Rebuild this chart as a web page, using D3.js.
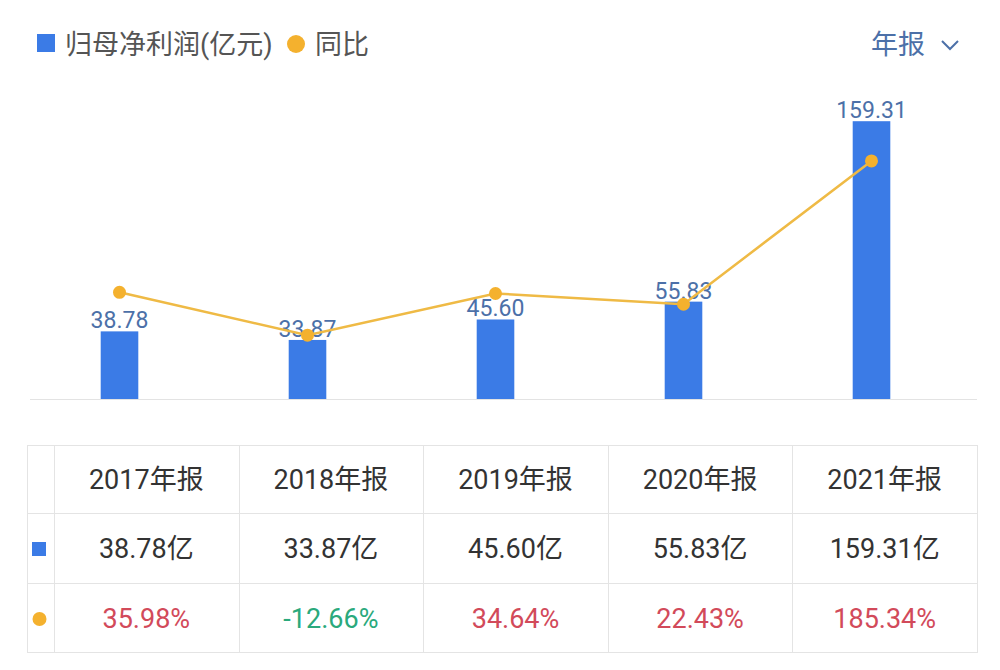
<!DOCTYPE html>
<html>
<head>
<meta charset="utf-8">
<script src="https://cdn.jsdelivr.net/npm/d3@7"></script>
<style>
  html, body { margin: 0; padding: 0; background: #fff; }
  svg { display: block; font-family: Roboto, "Noto Sans CJK SC", sans-serif; }
</style>
</head>
<body>
<svg id="chart" width="1000" height="670"></svg>
<script>
const categories = ["2017年报", "2018年报", "2019年报", "2020年报", "2021年报"];
const profit = [38.78, 33.87, 45.60, 55.83, 159.31];
const yoy = [35.98, -12.66, 34.64, 22.43, 185.34];
const legendLabels = ["归母净利润(亿元)", "同比"];
const periodLabel = "年报";

const BLUE = "#3b7be6";
const ORANGE = "#f4b12e";
const LINE = "#efba45";
const LABEL = "#4c70a8";
const RED = "#d24a5a";
const GREEN = "#2aa97c";

const svg = d3.select("#chart");

// legend
const lg = svg.append("g");
lg.append("rect").attr("x", 37).attr("y", 34).attr("width", 18).attr("height", 18).attr("fill", BLUE);
lg.append("text").attr("x", 65).attr("y", 54).attr("font-size", 27).attr("fill", "#555").text(legendLabels[0]);
lg.append("circle").attr("cx", 296).attr("cy", 44).attr("r", 9).attr("fill", ORANGE);
lg.append("text").attr("x", 315).attr("y", 54).attr("font-size", 27).attr("fill", "#555").text(legendLabels[1]);

svg.append("text").attr("x", 871).attr("y", 54).attr("font-size", 27).attr("fill", LABEL).text(periodLabel);
svg.append("path").attr("d", "M942,41 L950,49 L958,41").attr("fill", "none")
  .attr("stroke", LABEL).attr("stroke-width", 2);

// scales
const x = d3.scaleBand().domain(categories).range([25.5, 965.5]).paddingInner(0.8).paddingOuter(0.4);
const y = d3.scaleLinear().domain([0, 160]).range([399, 120]);
const y2 = d3.scaleLinear().domain([-50, 200]).range([368, 148]);

// baseline
svg.append("line").attr("x1", 30).attr("x2", 977).attr("y1", 399.5).attr("y2", 399.5)
  .attr("stroke", "#e3e3e3").attr("stroke-width", 1);

// bars
svg.append("g").selectAll("rect").data(profit).join("rect")
  .attr("x", (d, i) => x(categories[i]))
  .attr("width", x.bandwidth())
  .attr("y", d => y(d))
  .attr("height", d => y(0) - y(d))
  .attr("fill", BLUE);

// bar labels
svg.append("g").selectAll("text").data(profit).join("text")
  .attr("x", (d, i) => x(categories[i]) + x.bandwidth() / 2)
  .attr("y", d => y(d) - 3)
  .attr("text-anchor", "middle")
  .attr("font-size", 23)
  .attr("fill", LABEL)
  .text(d => d.toFixed(2));

// line
const cx = (i) => x(categories[i]) + x.bandwidth() / 2;
const line = d3.line().x((d, i) => cx(i)).y(d => y2(d));
svg.append("path").datum(yoy).attr("d", line).attr("fill", "none")
  .attr("stroke", LINE).attr("stroke-width", 2.5);
svg.append("g").selectAll("circle").data(yoy).join("circle")
  .attr("cx", (d, i) => cx(i)).attr("cy", d => y2(d)).attr("r", 6.5).attr("fill", ORANGE);

// table
const tLeft = 27, tRight = 977, firstCol = 54;
const rows = [445, 513, 583, 652];
const tx = d3.scaleBand().domain(categories).range([firstCol, tRight]);
const tg = svg.append("g");
const border = "#e4e4e4";
tg.append("rect").attr("x", tLeft + 0.5).attr("y", rows[0] + 0.5)
  .attr("width", tRight - tLeft).attr("height", rows[3] - rows[0])
  .attr("fill", "none").attr("stroke", border);
rows.slice(1, 3).forEach(r => {
  tg.append("line").attr("x1", tLeft).attr("x2", tRight).attr("y1", r + 0.5).attr("y2", r + 0.5).attr("stroke", border);
});
[firstCol].concat(categories.slice(1).map(c => tx(c))).forEach(v => {
  tg.append("line").attr("x1", Math.round(v) + 0.5).attr("x2", Math.round(v) + 0.5)
    .attr("y1", rows[0]).attr("y2", rows[3]).attr("stroke", border);
});

const rowMid = (k) => (rows[k] + rows[k + 1]) / 2;
tg.selectAll("text.h").data(categories).join("text").attr("class", "h")
  .attr("x", d => tx(d) + tx.bandwidth() / 2).attr("y", rowMid(0) + 10)
  .attr("text-anchor", "middle").attr("font-size", 27).attr("fill", "#333").text(d => d);
tg.selectAll("text.v").data(profit).join("text").attr("class", "v")
  .attr("x", (d, i) => tx(categories[i]) + tx.bandwidth() / 2).attr("y", rowMid(1) + 10)
  .attr("text-anchor", "middle").attr("font-size", 27).attr("fill", "#333").text(d => d.toFixed(2) + "亿");
tg.selectAll("text.p").data(yoy).join("text").attr("class", "p")
  .attr("x", (d, i) => tx(categories[i]) + tx.bandwidth() / 2).attr("y", rowMid(2) + 10)
  .attr("text-anchor", "middle").attr("font-size", 27).attr("fill", d => d < 0 ? GREEN : RED)
  .text(d => d.toFixed(2) + "%");

tg.append("rect").attr("x", 32).attr("y", 542).attr("width", 14).attr("height", 14).attr("fill", BLUE);
tg.append("circle").attr("cx", 39.5).attr("cy", 619).attr("r", 7).attr("fill", ORANGE);
</script>
</body>
</html>
